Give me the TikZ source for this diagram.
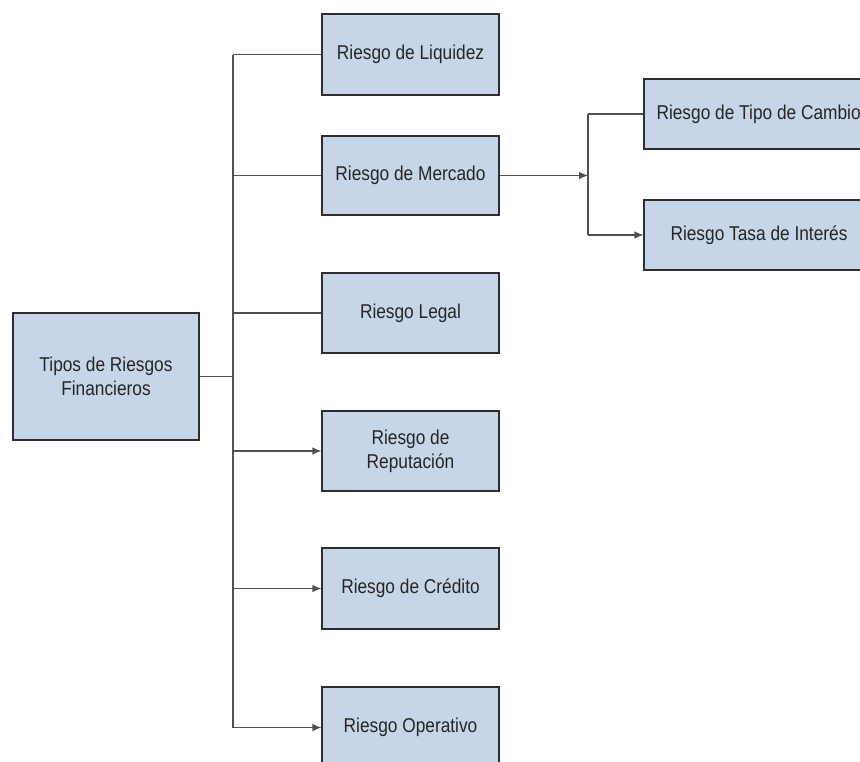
\documentclass[tikz,border=0pt]{standalone}
\usepackage{fontspec}
\setmainfont{Liberation Sans}[FakeStretch=0.865]
\usetikzlibrary{arrows.meta}
\definecolor{boxfill}{HTML}{C6D5E7}
\definecolor{boxline}{HTML}{2E2E2E}
\definecolor{wire}{HTML}{505050}
\definecolor{ink}{HTML}{262626}
\newcommand{\boxfont}{\fontsize{20}{24}\selectfont}
\tikzset{
  riskbox/.style={draw=boxline, line width=1.1pt, fill=boxfill, inner sep=0pt,
    minimum width=177pt, minimum height=80pt, align=center, text=ink,
    font=\boxfont},
  wideline/.style={draw=wire, line width=1.2pt},
  tip/.style={-{Latex[length=9pt,width=7.5pt]}}
}
\begin{document}
\begin{tikzpicture}[x=1pt,y=-1pt]
\useasboundingbox (0,0) rectangle (860,761);
\clip (0,0) rectangle (860,761);

% main category and its six branches
\node[riskbox, minimum width=186pt, minimum height=127pt] (root) at (106,376.5) {Tipos de Riesgos\\Financieros};
\node[riskbox, minimum height=81pt] (liq) at (410.5,54.5) {Riesgo de Liquidez};
\node[riskbox, minimum height=79pt] (mer) at (410.5,175.5) {Riesgo de Mercado};
\node[riskbox] (leg) at (410.5,313) {Riesgo Legal};
\node[riskbox] (rep) at (410.5,451) {Riesgo de\\Reputación};
\node[riskbox, minimum height=81pt] (cre) at (410.5,588.5) {Riesgo de Crédito};
\node[riskbox, minimum height=81pt] (ope) at (410.5,727.5) {Riesgo Operativo};

% sub-types of market risk (boxes run past the right edge)
\node[riskbox, minimum width=240pt, minimum height=70pt] (tip) at (764,114) {};
\node[text=ink, font=\boxfont, anchor=west] (tiptx) at (653,114) {Riesgo de Tipo de Cambio};
\node[riskbox, minimum width=240pt, minimum height=70pt] (tas) at (764,235) {};
\node[text=ink, font=\boxfont, anchor=west] (tastx) at (667,235) {Riesgo Tasa de Interés};

% trunk and junctions
\coordinate (jr) at (233,376.5);
\coordinate (jt) at (233,54.5);
\coordinate (jb) at (233,727.5);
\coordinate (mj) at (588,175.5);
\coordinate (mt) at (588,114);
\coordinate (mb) at (588,235);

\draw[wideline] (root.east) -- (jr);
\draw[wideline] (jt) -- (jb);
\draw[wideline] (jt) -- (liq.west);
\draw[wideline] (mer.west -| jr) -- (mer.west);
\draw[wideline] (leg.west -| jr) -- (leg.west);
\draw[wideline, tip] (rep.west -| jr) -- (rep.west);
\draw[wideline, tip] (cre.west -| jr) -- (cre.west);
\draw[wideline, tip] (jb) -- (ope.west);

\draw[wideline, tip] (mer.east) -- (mj);
\draw[wideline] (mt) -- (mb);
\draw[wideline] (mt) -- (tip.west);
\draw[wideline, tip] (mb) -- (tas.west);
\end{tikzpicture}
\end{document}
